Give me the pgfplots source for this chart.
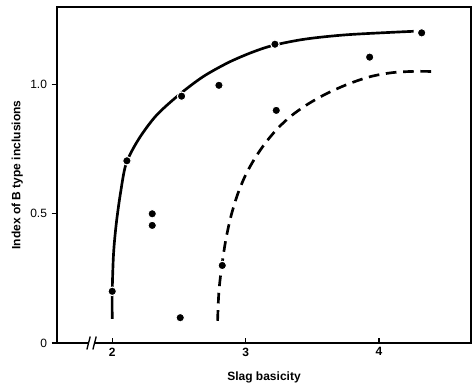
\documentclass[border=0pt]{standalone}
\usepackage{pgfplots}
\pgfplotsset{compat=1.18}
\usepackage{fontspec}
\setmainfont{Liberation Sans}
\begin{document}
\begin{tikzpicture}
\begin{axis}[
  scale only axis,
  width=310.5pt, height=252pt,
  xmin=1.586, xmax=4.69, ymin=0, ymax=1.30,
  axis line style={line width=1.3pt},
  xtick={2,3,4}, ytick={0,0.5,1.0},
  yticklabels={0,0.5,1.0},
  xticklabel style={font=\bfseries\small},
  yticklabel style={font=\small},
  x tick style={line width=1pt, black},
  y tick style={line width=1pt, black},
  xtick align=inside, ytick align=outside,
  major tick length=4pt,
  tick pos=left,
  xlabel={\bfseries Slag basicity},
  ylabel={\bfseries Index of B type inclusions},
  xlabel style={font=\small, at={(axis description cs:0.5,0)}, anchor=north, yshift=-18pt},
  ylabel style={font=\small, at={(axis description cs:0,0.5)}, anchor=south, yshift=22pt},
  /pgf/number format/assume math mode=true,
  clip=false,
]
% solid curve
\addplot[black, line width=2pt, smooth, tension=0.5] coordinates {
 (2.0,0.093) (2.0,0.2) (2.01,0.346) (2.03,0.46) (2.062,0.58) (2.105,0.695)
 (2.2,0.79) (2.33,0.88) (2.5,0.96) (2.68,1.03) (2.87,1.085) (3.05,1.125)
 (3.21,1.152) (3.45,1.176) (3.77,1.193) (4.26,1.206)
};
% dashed curve
\addplot[black, line width=2pt, smooth, tension=0.5, dash pattern=on 8pt off 5pt] coordinates {
 (2.790,0.086) (2.800,0.20) (2.822,0.30) (2.852,0.40) (2.89,0.49) (2.94,0.575)
 (3.0,0.65) (3.07,0.715) (3.15,0.775) (3.24,0.83) (3.34,0.878) (3.46,0.922)
 (3.60,0.963) (3.76,1.0) (3.93,1.03) (4.10,1.046) (4.27,1.051) (4.44,1.05)
};
% data points
\addplot[only marks, mark=*, mark size=3.2pt, mark options={fill=black, draw=white, line width=0.8pt}] coordinates {
 (2.0,0.20) (2.11,0.705) (2.52,0.955) (2.80,0.997) (2.30,0.50) (2.30,0.455)
 (2.51,0.098) (2.825,0.30) (3.22,1.156) (3.23,0.90) (3.93,1.106) (4.32,1.20)
};
% axis break
\fill[white] (axis cs:1.82,-0.02) rectangle (axis cs:1.87,0.02);
\draw[line width=1pt] (axis cs:1.81,-0.025) -- (axis cs:1.835,0.025);
\draw[line width=1pt] (axis cs:1.855,-0.025) -- (axis cs:1.88,0.025);
\coordinate (sw) at (rel axis cs:0,0);
\coordinate (ne) at (rel axis cs:1,1);
\end{axis}
\pgfresetboundingbox
\path (sw) ++(-42.75pt,-31.5pt) rectangle (ne) ++(1.5pt,5.25pt);
\end{tikzpicture}
\end{document}
